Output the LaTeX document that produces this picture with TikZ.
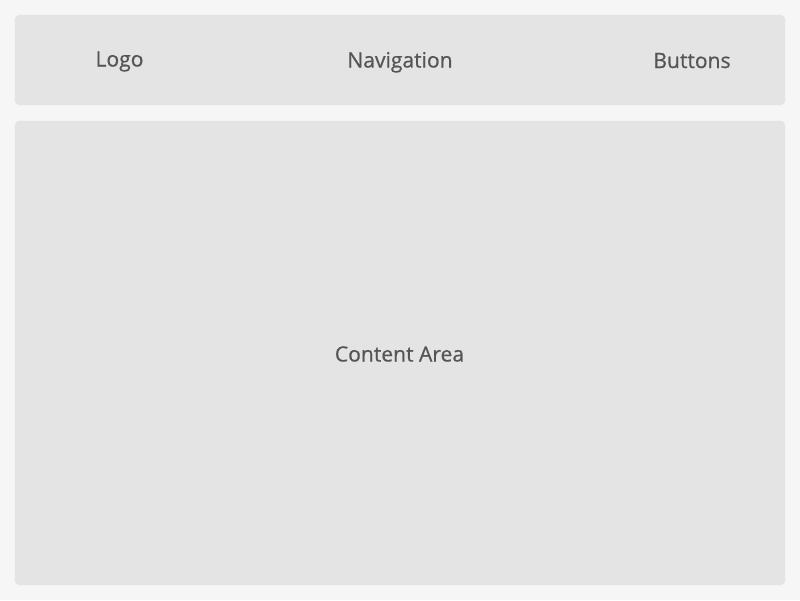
\documentclass[tikz,border=0pt]{standalone}
\usepackage{fontspec}
\setmainfont{Open Sans}[FakeBold=0.8, AutoFakeBold=0.8]
\usepackage{tikz}
\usetikzlibrary{positioning}
\definecolor{pagebg}{HTML}{F5F6F5}
\definecolor{boxfill}{HTML}{E4E4E4}
\definecolor{labeltext}{HTML}{555555}

\begin{document}
\begin{tikzpicture}[
    x=0.025cm, y=-0.025cm,
    font=\fontsize{15}{17}\selectfont,
    block/.style={
		rectangle,
		rounded corners=3pt,
		draw=none,
		fill=boxfill,
		inner sep=0pt
	},
	label/.style={
		text=labeltext,
		inner sep=0pt,
		anchor=base
	}
  ]
    % page background fixes the size
  \fill [pagebg] (0,0) rectangle (800,600);
  \useasboundingbox (0,0) rectangle (800,600);

    % the two blocks
  \node [block, minimum width=19.25cm, minimum height=2.25cm] (header) at (400,60) {};
  \node [block, minimum width=19.25cm, minimum height=11.6cm] (content) at (400,353) {};

    % texts
  \node [label] (logo) at (119.5,66.5) {\addfontfeature{FakeBold=0.6}Logo};
  \node [label] (nav) at (400,67.5) {\addfontfeature{FakeBold=0.6}Navigation};
  \node [label] (buttons) at (692,68) {\addfontfeature{FakeBold=0.6}Buttons};
  \node [label] (area) at (399.5,361.5) {\addfontfeature{FakeBold=0.6}Content Area};

\end{tikzpicture}
\end{document}
